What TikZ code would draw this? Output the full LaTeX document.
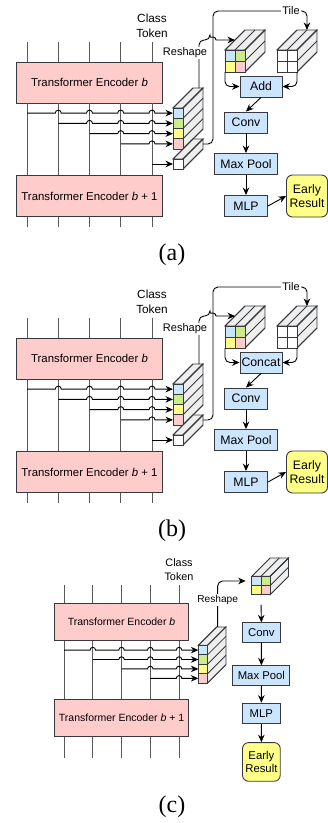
\documentclass[tikz,border=0pt]{standalone}
\usepackage{fontspec}
\setmainfont{Liberation Sans}
\newfontfamily\capfont{Liberation Serif}
\usetikzlibrary{arrows.meta}

\definecolor{encfill}{HTML}{FFCCCC}
\definecolor{blkfill}{HTML}{CCE5FF}
\definecolor{resfill}{HTML}{FFFF88}
\definecolor{grnfill}{HTML}{CDEB8B}
\definecolor{sidefill}{HTML}{EEEEEE}
\definecolor{ink}{HTML}{36393D}

% depth of the token blocks
\def\Dx{20}
\def\Dy{20}

% block of tokens: corner x, y, width, height, cols, rows, cell colours, name
\newcommand\Slab[8]{%
  \pgfmathsetmacro\cwd{#3/#5}%
  \pgfmathsetmacro\cht{#4/#6}%
  \filldraw[face] (#1,#2) -- ++(\Dx,-\Dy) -- ++(#3,0) -- ++(-\Dx,\Dy) -- cycle;
  \filldraw[face] (#1+#3,#2) -- ++(\Dx,-\Dy) -- ++(0,#4) -- ++(-\Dx,\Dy) -- cycle;
  \foreach \q in {0,...,#5} \draw[rib] (#1+\q*\cwd,#2) -- ++(\Dx,-\Dy);
  \foreach \q in {0,...,#6} \draw[rib] (#1+#3,#2+\q*\cht) -- ++(\Dx,-\Dy);
  \foreach \col [count=\idx from 0] in {#7} {
    \pgfmathtruncatemacro\ci{mod(\idx,#5)}%
    \pgfmathtruncatemacro\ri{div(\idx,#5)}%
    \node[cell, fill=\col, minimum width=\cwd pt, minimum height=\cht pt]
      (#8\idx) at (#1+\ci*\cwd+0.5*\cwd, #2+\ri*\cht+0.5*\cht) {};
  }%
}

% two encoders, patch tokens into a stack: name, centre of lower box, stub
\newcommand\Encoders[3]{%
  \node[tag] (cls#1) at (152,25.5) {Class\\Token};
  \foreach \i in {0,...,4} \coordinate (t#1\i) at (27+31.25*\i,42);
  \node[enc] (encb#1) at (89.5,82.5) {Transformer Encoder \textit{b}};
  \node[enc] (encn#1) at (89.5,#2) {Transformer Encoder \textit{b} + 1};
  \foreach \i in {0,...,4} {
    \draw[vline] (t#1\i) -- (t#1\i |- encb#1.north);
    \draw[vline] (t#1\i |- encb#1.south) -- (t#1\i |- encn#1.north);
    \draw[vline] (t#1\i |- encn#1.south) -- ++(0,#3);
  }
  \Slab{173}{108}{10}{41}{1}{4}{blkfill,grnfill,resfill,encfill}{stk#1}
  \foreach \i in {0,...,3} {
    \pgfmathtruncatemacro\nx{\i+1}
    \draw[arr] (t#1\i |- stk#1\i.west)
      \foreach \j in {\nx,...,4} {
        -- ([xshift=-3pt]t#1\j |- stk#1\i.west) arc[start angle=180, end angle=0, radius=3pt]}
      -- (stk#1\i.west);
  }
}

\begin{document}
\begin{tikzpicture}[x=1pt, y=-1pt,
  enc/.style={draw=ink, fill=encfill, line width=0.9pt, minimum width=146pt,
    minimum height=41pt, font=\fontsize{11.4}{13}\selectfont},
  blk/.style={draw=ink, fill=blkfill, line width=0.9pt, minimum width=42pt,
    minimum height=21pt, inner sep=1.5pt, font=\fontsize{12.3}{14}\selectfont},
  res/.style={draw=ink, fill=resfill, line width=0.9pt, rounded corners=6pt,
    minimum width=41pt, minimum height=42pt, inner sep=1pt, align=center,
    font=\fontsize{12.3}{14.5}\selectfont},
  tag/.style={align=center, font=\fontsize{11.8}{15}\selectfont},
  lbl/.style={fill=white, inner sep=1pt, font=\fontsize{11}{13}\selectfont},
  capt/.style={font=\capfont\fontsize{24}{28}\selectfont},
  face/.style={draw=ink, fill=sidefill, line width=0.8pt},
  rib/.style={draw=ink, line width=0.8pt},
  cell/.style={draw=ink, line width=0.8pt, inner sep=0pt, outer sep=0pt},
  vline/.style={draw=black!65, line width=0.9pt},
  arr/.style={draw=black, line width=0.9pt, -{Stealth[length=7.5pt, width=6.5pt]}}]

\useasboundingbox (0,0) rectangle (328,823);

% (a) and (b)
\foreach \p/\m/\dy in {a/Add/0, b/Concat/276} {
  \begin{scope}[shift={(0,\dy)}]
    \Encoders{\p}{196}{10}
    \Slab{173}{159}{10}{10}{1}{1}{white}{tok\p}
    \draw[arr] (t\p4 |- tok\p0.west) -- (tok\p0.west);
    \Slab{225}{50}{20}{22}{2}{2}{blkfill,grnfill,resfill,encfill}{rgb\p}
    \Slab{277}{50}{20}{22}{2}{2}{white,white,white,white}{til\p}
    \node[blk] (mrg\p) at (261,86.5) {\m};
    \node[blk, minimum width=43pt] (cnv\p) at (246,122.5) {Conv};
    \node[blk, minimum width=63pt] (mxp\p) at (246,164) {Max Pool};
    \node[blk, minimum width=43pt] (mlp\p) at (246,206) {MLP};
    \node[res] (out\p) at (307,196) {Early\\Result};
    \coordinate (up\p) at ([shift={(30,-20)}]tok\p0.east);
    \coordinate (tin\p) at ([shift={(20,-20)}]til\p0.north east);
    \coordinate (rin\p) at ([shift={(10,-10)}]rgb\p0.north west);
    \draw[arr, rounded corners=5pt] ([shift={(20,-20)}]tok\p0.east) -- (up\p)
      |- ([yshift=19pt]tin\p) -- (tin\p);
    \node[lbl] (tile\p) at (291,11) {Tile};
    \draw[arr] ([shift={(21,-20)}]stk\p0.north) [rounded corners=5pt]
      |- ([xshift=-3pt]up\p |- rin\p) [sharp corners]
      arc[start angle=180, end angle=0, radius=3pt] -- (rin\p);
    \node[lbl] (rsh\p) at (185,53) {Reshape};
    \draw[arr, rounded corners=5pt] (rgb\p2.south west) |- (mrg\p.west);
    \draw[arr, rounded corners=5pt] (til\p3.south east) |- (mrg\p.east);
    \draw[arr] (mrg\p.south) -- (cnv\p.north);
    \draw[arr] (cnv\p) -- (mxp\p);
    \draw[arr] (mxp\p) -- (mlp\p);
    \draw[arr] (mlp\p.east) -- (out\p.west);
  \end{scope}
}

% (c)
\begin{scope}[shift={(39.2,546)}, scale=0.92, transform shape]
  \Encoders{c}{187}{22}
  \Slab{231}{33}{20}{20}{2}{2}{blkfill,grnfill,resfill,encfill}{rgbc}
  \node[blk] (cnvc) at (241.5,94) {Conv};
  \node[blk, minimum width=62pt] (mxpc) at (241.5,140.7) {Max Pool};
  \node[blk, minimum height=22.5pt] (mlpc) at (241.5,182) {MLP};
  \node[res] (outc) at (241.5,234.7) {Early\\Result};
  \draw[arr, rounded corners=5pt, shorten >=6pt] ([shift={(16,-20)}]stkc0.north) |- (rgbc0.west);
  \node[lbl] (rshc) at (194,58.7) {Reshape};
  \draw[arr, shorten <=10pt] (rgbc2.south east) -- (cnvc.north);
  \draw[arr] (cnvc) -- (mxpc);
  \draw[arr] (mxpc) -- (mlpc);
  \draw[arr] (mlpc) -- (outc);
\end{scope}

\node[capt] (capa) at (172,255) {(a)};
\node[capt] (capb) at (172,531) {(b)};
\node[capt] (capc) at (172,807) {(c)};
\end{tikzpicture}
\end{document}
